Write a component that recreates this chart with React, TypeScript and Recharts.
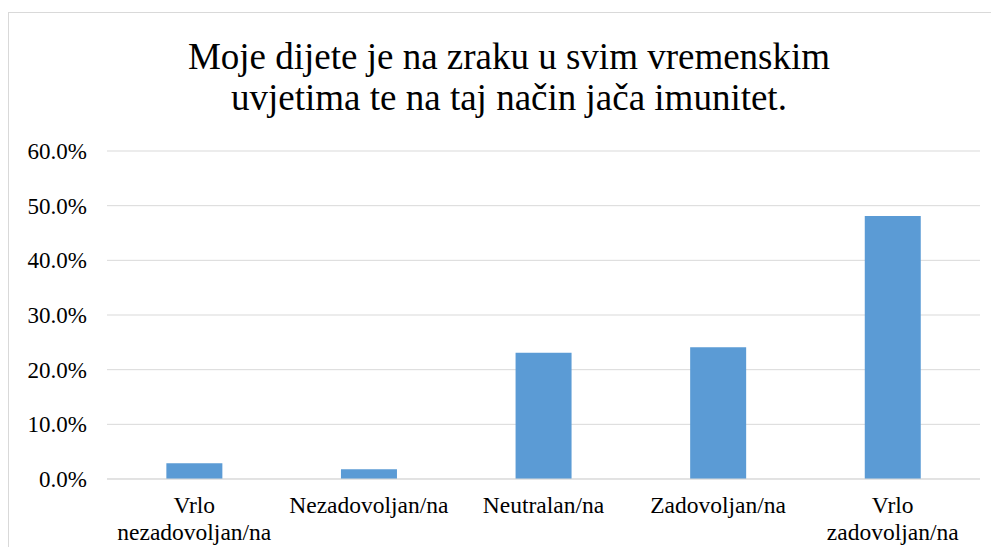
import React from 'react';
import { BarChart, Bar, XAxis, YAxis, CartesianGrid } from 'recharts';

const categories = ['Vrlo nezadovoljan/na', 'Nezadovoljan/na', 'Neutralan/na', 'Zadovoljan/na', 'Vrlo zadovoljan/na'];
const percentages = [2.9, 1.8, 23.1, 24.1, 48.1];
const yTicks = [0, 10, 20, 30, 40, 50, 60];

const data = categories.map((name, i) => ({ name, value: percentages[i] }));

const font = '"Liberation Serif", serif';

const CategoryTick = (props: any) => {
  const { x, y, payload } = props;
  const label: string = payload.value;
  const lines = label.startsWith('Vrlo ') ? ['Vrlo', label.slice(5)] : [label];
  return (
    <text x={x} y={y} textAnchor="middle" fill="#000" fontFamily={font} fontSize={23.5}>
      {lines.map((l, i) => (
        <tspan key={i} x={x} dy={i === 0 ? 34 : 27}>
          {l}
        </tspan>
      ))}
    </text>
  );
};

const ValueTick = (props: any) => {
  const { x, y, payload } = props;
  return (
    <text x={x} y={y} dy={8} textAnchor="end" fill="#000" fontFamily={font} fontSize={23}>
      {`${Number(payload.value).toFixed(1)}%`}
    </text>
  );
};

export default function App() {
  return (
    <div style={{ position: 'relative', width: 999, height: 555, margin: -8, background: '#fff', overflow: 'hidden' }}>
      <div
        style={{
          position: 'absolute',
          left: 8,
          top: 12,
          width: 1010,
          height: 560,
          border: '1px solid #d9d9d9',
        }}
      />
      <div
        style={{
          position: 'absolute',
          left: 0,
          top: 36,
          width: 1018,
          textAlign: 'center',
          fontFamily: font,
          fontSize: 37,
          lineHeight: '41px',
          color: '#000',
        }}
      >
        Moje dijete je na zraku u svim vremenskim
        <br />
        uvjetima te na taj način jača imunitet.
      </div>
      <div style={{ position: 'absolute', left: 0, top: 0 }}>
        <BarChart
          width={999}
          height={555}
          data={data}
          margin={{ top: 151, right: 19, bottom: 0, left: 7 }}
          barCategoryGap="34%"
        >
          <CartesianGrid vertical={false} stroke="#d9d9d9" strokeWidth={1} />
          <XAxis
            dataKey="name"
            axisLine={{ stroke: '#d9d9d9', strokeWidth: 1 }}
            tickLine={false}
            tickSize={0}
            tickMargin={0}
            tick={<CategoryTick />}
            interval={0}
            height={76}
          />
          <YAxis
            width={100}
            domain={[0, 60]}
            ticks={yTicks}
            axisLine={false}
            tickLine={false}
            tickSize={0}
            tickMargin={20}
            tick={<ValueTick />}
          />
          <Bar dataKey="value" fill="#5b9bd5" isAnimationActive={false} />
        </BarChart>
      </div>
    </div>
  );
}
